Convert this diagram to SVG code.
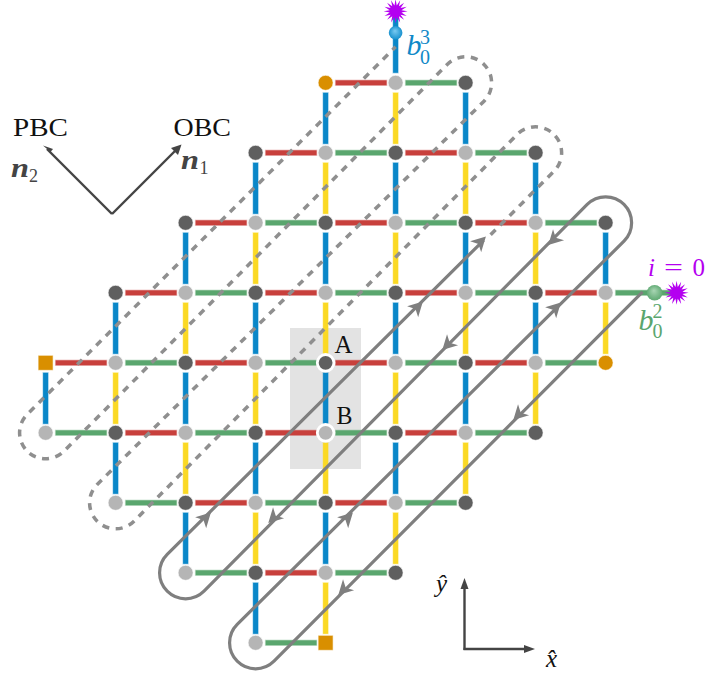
<svg xmlns="http://www.w3.org/2000/svg" width="705" height="675" viewBox="0 0 705 675">
<style>
text{font-family:"Liberation Serif","Times New Roman",serif;fill:#111}
.it{font-style:italic}
.r{fill:#c8403c;stroke:#c8403c;stroke-opacity:.3;stroke-width:1.4}
.g{fill:#5aa66e;stroke:#5aa66e;stroke-opacity:.3;stroke-width:1.4}
.b{fill:#0a87c8;stroke:#0a87c8;stroke-opacity:.3;stroke-width:1.4}
.y{fill:#fbd924;stroke:#fbd924;stroke-opacity:.3;stroke-width:1.4}
.d{fill:#5f5f5f;stroke:#fff;stroke-opacity:.6;stroke-width:1}
.l{fill:#b5b5b5;stroke:#fff;stroke-opacity:.6;stroke-width:1}
.o{fill:#d98f00;stroke:#fff;stroke-opacity:.6;stroke-width:1}
.ring{stroke:#fff;stroke-opacity:1;stroke-width:2.8}
.solid{fill:none;stroke:#7f7f7f;stroke-width:3.2}
.dash{fill:none;stroke:#8f8f8f;stroke-width:3.5;stroke-dasharray:7 6.5}
.ax{fill:none;stroke:#444;stroke-width:2.4}
.hd{fill:#444}
.star{fill:#b400f0}
.pur{fill:#b400f0}
.blu{fill:#1089c8}
.grn{fill:#5aa66e}
.dk{fill:#444}
</style>
<defs>
<path id="ah" d="M7.5,0 L-7,-7.8 L-3,0 L-7,7.8 Z" fill="#7f7f7f"/>
<polygon id="st" points="12,0 5.89,1.17 11.09,4.59 4.99,3.33 8.49,8.49 3.33,4.99 4.59,11.09 1.17,5.89 0,12 -1.17,5.89 -4.59,11.09 -3.33,4.99 -8.49,8.49 -4.99,3.33 -11.09,4.59 -5.89,1.17 -12,0 -5.89,-1.17 -11.09,-4.59 -4.99,-3.33 -8.49,-8.49 -3.33,-4.99 -4.59,-11.09 -1.17,-5.89 0,-12 1.17,-5.89 4.59,-11.09 3.33,-4.99 8.49,-8.49 4.99,-3.33 11.09,-4.59 5.89,-1.17"/>
<radialGradient id="bb" cx=".5" cy=".5" r=".55" fx=".45" fy=".35"><stop offset="0" stop-color="#7ccbf2"/><stop offset="1" stop-color="#0f8ccb"/></radialGradient>
<radialGradient id="gb" cx=".5" cy=".5" r=".55" fx=".45" fy=".35"><stop offset="0" stop-color="#a9d6b4"/><stop offset="1" stop-color="#5aa66e"/></radialGradient>
</defs>
<rect id="unit-cell" x="290" y="328" width="71" height="141" fill="#e3e3e3"/>
<g transform="translate(.6,-.2)">
<g id="connectors">
<g id="horizontal">
<rect class="r" x="335" y="80.5" width="51" height="5"/><rect class="g" x="405" y="80.5" width="51" height="5"/>
<rect class="r" x="265" y="150.5" width="51" height="5"/><rect class="g" x="335" y="150.5" width="51" height="5"/><rect class="r" x="405" y="150.5" width="51" height="5"/><rect class="g" x="475" y="150.5" width="51" height="5"/>
<rect class="r" x="195" y="220.5" width="51" height="5"/><rect class="g" x="265" y="220.5" width="51" height="5"/><rect class="r" x="335" y="220.5" width="51" height="5"/><rect class="g" x="405" y="220.5" width="51" height="5"/><rect class="r" x="475" y="220.5" width="51" height="5"/><rect class="g" x="545" y="220.5" width="51" height="5"/>
<rect class="r" x="125" y="290.5" width="51" height="5"/><rect class="g" x="195" y="290.5" width="51" height="5"/><rect class="r" x="265" y="290.5" width="51" height="5"/><rect class="g" x="335" y="290.5" width="51" height="5"/><rect class="r" x="405" y="290.5" width="51" height="5"/><rect class="g" x="475" y="290.5" width="51" height="5"/><rect class="r" x="545" y="290.5" width="51" height="5"/><rect class="g" x="615" y="290.5" width="60" height="5"/>
<rect class="r" x="55" y="360.5" width="51" height="5"/><rect class="g" x="125" y="360.5" width="51" height="5"/><rect class="r" x="195" y="360.5" width="51" height="5"/><rect class="g" x="265" y="360.5" width="51" height="5"/><rect class="r" x="335" y="360.5" width="51" height="5"/><rect class="g" x="405" y="360.5" width="51" height="5"/><rect class="r" x="475" y="360.5" width="51" height="5"/><rect class="g" x="545" y="360.5" width="51" height="5"/>
<rect class="g" x="55" y="430.5" width="51" height="5"/><rect class="r" x="125" y="430.5" width="51" height="5"/><rect class="g" x="195" y="430.5" width="51" height="5"/><rect class="r" x="265" y="430.5" width="51" height="5"/><rect class="g" x="335" y="430.5" width="51" height="5"/><rect class="r" x="405" y="430.5" width="51" height="5"/><rect class="g" x="475" y="430.5" width="51" height="5"/>
<rect class="g" x="125" y="500.5" width="51" height="5"/><rect class="r" x="195" y="500.5" width="51" height="5"/><rect class="g" x="265" y="500.5" width="51" height="5"/><rect class="r" x="335" y="500.5" width="51" height="5"/><rect class="g" x="405" y="500.5" width="51" height="5"/>
<rect class="g" x="195" y="570.5" width="51" height="5"/><rect class="r" x="265" y="570.5" width="51" height="5"/><rect class="g" x="335" y="570.5" width="51" height="5"/>
<rect class="g" x="265" y="640.5" width="51" height="5"/>
</g>
<g id="vertical">
<rect class="b" x="42.5" y="373" width="5" height="51"/>
<rect class="b" x="112.5" y="303" width="5" height="51"/><rect class="y" x="112.5" y="373" width="5" height="51"/><rect class="b" x="112.5" y="443" width="5" height="51"/>
<rect class="b" x="182.5" y="233" width="5" height="51"/><rect class="y" x="182.5" y="303" width="5" height="51"/><rect class="b" x="182.5" y="373" width="5" height="51"/><rect class="y" x="182.5" y="443" width="5" height="51"/><rect class="b" x="182.5" y="513" width="5" height="51"/>
<rect class="b" x="252.5" y="163" width="5" height="51"/><rect class="y" x="252.5" y="233" width="5" height="51"/><rect class="b" x="252.5" y="303" width="5" height="51"/><rect class="y" x="252.5" y="373" width="5" height="51"/><rect class="b" x="252.5" y="443" width="5" height="51"/><rect class="y" x="252.5" y="513" width="5" height="51"/><rect class="b" x="252.5" y="583" width="5" height="51"/>
<rect class="b" x="322.5" y="93" width="5" height="51"/><rect class="y" x="322.5" y="163" width="5" height="51"/><rect class="b" x="322.5" y="233" width="5" height="51"/><rect class="y" x="322.5" y="303" width="5" height="51"/><rect class="b" x="322.5" y="373" width="5" height="51"/><rect class="y" x="322.5" y="443" width="5" height="51"/><rect class="b" x="322.5" y="513" width="5" height="51"/><rect class="y" x="322.5" y="583" width="5" height="51"/>
<rect class="b" x="392.5" y="12" width="5" height="61"/><rect class="y" x="392.5" y="93" width="5" height="51"/><rect class="b" x="392.5" y="163" width="5" height="51"/><rect class="y" x="392.5" y="233" width="5" height="51"/><rect class="b" x="392.5" y="303" width="5" height="51"/><rect class="y" x="392.5" y="373" width="5" height="51"/><rect class="b" x="392.5" y="443" width="5" height="51"/><rect class="y" x="392.5" y="513" width="5" height="51"/>
<rect class="b" x="462.5" y="93" width="5" height="51"/><rect class="y" x="462.5" y="163" width="5" height="51"/><rect class="b" x="462.5" y="233" width="5" height="51"/><rect class="y" x="462.5" y="303" width="5" height="51"/><rect class="b" x="462.5" y="373" width="5" height="51"/><rect class="y" x="462.5" y="443" width="5" height="51"/>
<rect class="b" x="532.5" y="163" width="5" height="51"/><rect class="y" x="532.5" y="233" width="5" height="51"/><rect class="b" x="532.5" y="303" width="5" height="51"/><rect class="y" x="532.5" y="373" width="5" height="51"/>
<rect class="b" x="602.5" y="233" width="5" height="51"/><rect class="y" x="602.5" y="303" width="5" height="51"/>
</g>
<g id="path-loops">
<path class="solid" d="M642,292 L273.4,661.4 A26 26 0 0 1 236.6,624.6 L623.4,241.4 A26 26 0 0 0 586.6,204.6 L203.4,591.4 A26 26 0 0 1 166.6,554.6 L483,240.5"/>
<path class="dash" d="M490,235 L553.4,171.4 A26 26 0 0 0 516.6,134.6 L133.4,521.4 A26 26 0 0 1 96.6,484.6 L483.4,101.4 A26 26 0 0 0 446.6,64.6 L63.4,451.4 A26 26 0 0 1 26.6,414.6 L395,47"/>
<use href="#ah" transform="translate(480,242) rotate(-45)"/>
<use href="#ah" transform="translate(417,307) rotate(-45)"/>
<use href="#ah" transform="translate(205,518) rotate(-45)"/>
<use href="#ah" transform="translate(555,308) rotate(-45)"/>
<use href="#ah" transform="translate(347,518) rotate(-45)"/>
<use href="#ah" transform="translate(553,240) rotate(135)"/>
<use href="#ah" transform="translate(447,345) rotate(135)"/>
<use href="#ah" transform="translate(273,518) rotate(135)"/>
<use href="#ah" transform="translate(518,415) rotate(135)"/>
<use href="#ah" transform="translate(343,590) rotate(135)"/>
</g>
</g>
<g id="nodes">
<g id="n-325-83"><circle class="o" cx="325" cy="83" r="7.5"/></g>
<g id="n-395-83"><circle class="l" cx="395" cy="83" r="7.5"/></g>
<g id="n-465-83"><circle class="d" cx="465" cy="83" r="7.5"/></g>
<g id="n-255-153"><circle class="d" cx="255" cy="153" r="7.5"/></g>
<g id="n-325-153"><circle class="l" cx="325" cy="153" r="7.5"/></g>
<g id="n-395-153"><circle class="d" cx="395" cy="153" r="7.5"/></g>
<g id="n-465-153"><circle class="l" cx="465" cy="153" r="7.5"/></g>
<g id="n-535-153"><circle class="d" cx="535" cy="153" r="7.5"/></g>
<g id="n-185-223"><circle class="d" cx="185" cy="223" r="7.5"/></g>
<g id="n-255-223"><circle class="l" cx="255" cy="223" r="7.5"/></g>
<g id="n-325-223"><circle class="d" cx="325" cy="223" r="7.5"/></g>
<g id="n-395-223"><circle class="l" cx="395" cy="223" r="7.5"/></g>
<g id="n-465-223"><circle class="d" cx="465" cy="223" r="7.5"/></g>
<g id="n-535-223"><circle class="l" cx="535" cy="223" r="7.5"/></g>
<g id="n-605-223"><circle class="d" cx="605" cy="223" r="7.5"/></g>
<g id="n-115-293"><circle class="d" cx="115" cy="293" r="7.5"/></g>
<g id="n-185-293"><circle class="l" cx="185" cy="293" r="7.5"/></g>
<g id="n-255-293"><circle class="d" cx="255" cy="293" r="7.5"/></g>
<g id="n-325-293"><circle class="l" cx="325" cy="293" r="7.5"/></g>
<g id="n-395-293"><circle class="d" cx="395" cy="293" r="7.5"/></g>
<g id="n-465-293"><circle class="l" cx="465" cy="293" r="7.5"/></g>
<g id="n-535-293"><circle class="d" cx="535" cy="293" r="7.5"/></g>
<g id="n-605-293"><circle class="l" cx="605" cy="293" r="7.5"/></g>
<g id="n-45-363"><rect class="o" x="37.5" y="355.5" width="15" height="15"/></g>
<g id="n-115-363"><circle class="l" cx="115" cy="363" r="7.5"/></g>
<g id="n-185-363"><circle class="d" cx="185" cy="363" r="7.5"/></g>
<g id="n-255-363"><circle class="l" cx="255" cy="363" r="7.5"/></g>
<g id="n-A"><circle class="d ring" cx="325" cy="363" r="8.3"/></g>
<g id="n-395-363"><circle class="l" cx="395" cy="363" r="7.5"/></g>
<g id="n-465-363"><circle class="d" cx="465" cy="363" r="7.5"/></g>
<g id="n-535-363"><circle class="l" cx="535" cy="363" r="7.5"/></g>
<g id="n-605-363"><circle class="o" cx="605" cy="363" r="7.5"/></g>
<g id="n-45-433"><circle class="l" cx="45" cy="433" r="7.5"/></g>
<g id="n-115-433"><circle class="d" cx="115" cy="433" r="7.5"/></g>
<g id="n-185-433"><circle class="l" cx="185" cy="433" r="7.5"/></g>
<g id="n-255-433"><circle class="d" cx="255" cy="433" r="7.5"/></g>
<g id="n-B"><circle class="l ring" cx="325" cy="433" r="8.3"/></g>
<g id="n-395-433"><circle class="d" cx="395" cy="433" r="7.5"/></g>
<g id="n-465-433"><circle class="l" cx="465" cy="433" r="7.5"/></g>
<g id="n-535-433"><circle class="d" cx="535" cy="433" r="7.5"/></g>
<g id="n-115-503"><circle class="l" cx="115" cy="503" r="7.5"/></g>
<g id="n-185-503"><circle class="d" cx="185" cy="503" r="7.5"/></g>
<g id="n-255-503"><circle class="l" cx="255" cy="503" r="7.5"/></g>
<g id="n-325-503"><circle class="d" cx="325" cy="503" r="7.5"/></g>
<g id="n-395-503"><circle class="l" cx="395" cy="503" r="7.5"/></g>
<g id="n-465-503"><circle class="d" cx="465" cy="503" r="7.5"/></g>
<g id="n-185-573"><circle class="l" cx="185" cy="573" r="7.5"/></g>
<g id="n-255-573"><circle class="d" cx="255" cy="573" r="7.5"/></g>
<g id="n-325-573"><circle class="l" cx="325" cy="573" r="7.5"/></g>
<g id="n-395-573"><circle class="d" cx="395" cy="573" r="7.5"/></g>
<g id="n-255-643"><circle class="l" cx="255" cy="643" r="7.5"/></g>
<g id="n-325-643"><rect class="o" x="317.5" y="635.5" width="15" height="15"/></g>
<g id="ball-3"><circle cx="395" cy="33" r="6.8" fill="url(#bb)"/></g>
<g id="ball-2"><circle cx="654" cy="293" r="7.8" fill="url(#gb)"/></g>
<g id="star-3"><use href="#st" class="star" x="395" y="11.5"/></g>
<g id="star-2"><use href="#st" class="star" x="676" y="293"/></g>
</g>
</g>
<g id="labels">
<text x="334.5" y="353" font-size="26" textLength="18" lengthAdjust="spacingAndGlyphs">A</text>
<text x="336.5" y="424" font-size="26" textLength="16" lengthAdjust="spacingAndGlyphs">B</text>
<text x="13" y="136" font-size="26" textLength="55" lengthAdjust="spacingAndGlyphs">PBC</text>
<text x="173.500" y="136" font-size="26" textLength="57.500" lengthAdjust="spacingAndGlyphs">OBC</text>
<text class="dk" x="181" y="169" font-size="27" font-weight="bold" font-style="italic" textLength="18" lengthAdjust="spacingAndGlyphs">n</text>
<text class="dk" x="199.500" y="173.500" font-size="18">1</text>
<text class="dk" x="11" y="177" font-size="27" font-weight="bold" font-style="italic" textLength="18" lengthAdjust="spacingAndGlyphs">n</text>
<text class="dk" x="29" y="181.500" font-size="18">2</text>
<text class="blu it" x="406.500" y="55" font-size="30">b</text>
<text class="blu" x="420" y="43.500" font-size="20">3</text>
<text class="blu" x="420" y="63.500" font-size="20">0</text>
<text class="grn it" x="638.500" y="330" font-size="30">b</text>
<text class="grn" x="652.500" y="318" font-size="20">2</text>
<text class="grn" x="652.500" y="338" font-size="20">0</text>
<text class="pur" x="648" y="276" font-size="25"><tspan class="it pur">i</tspan><tspan class="pur" x="664" textLength="19" lengthAdjust="spacingAndGlyphs">=</tspan><tspan class="pur" x="692.500">0</tspan></text>
<text class="it" x="436" y="592" font-size="25">ŷ</text>
<text class="it" x="546" y="667" font-size="25">x̂</text>
</g>
<g id="axes">
<path class="ax" d="M112,214 L47,149"/><path class="hd" d="M43,145.500 L53,149 L50.500,152 Z"/>
<path class="ax" d="M112,214 L177,149"/><path class="hd" d="M181.500,144.500 L178,155 L171,148 Z"/>
<path class="ax" d="M464.500,650 L464.500,584"/><path class="hd" d="M464.500,578 L468.500,589 L460.500,589 Z"/>
<path class="ax" d="M463.500,649 L528,649"/><path class="hd" d="M535,649 L524,653 L524,645 Z"/>
</g>
</svg>
